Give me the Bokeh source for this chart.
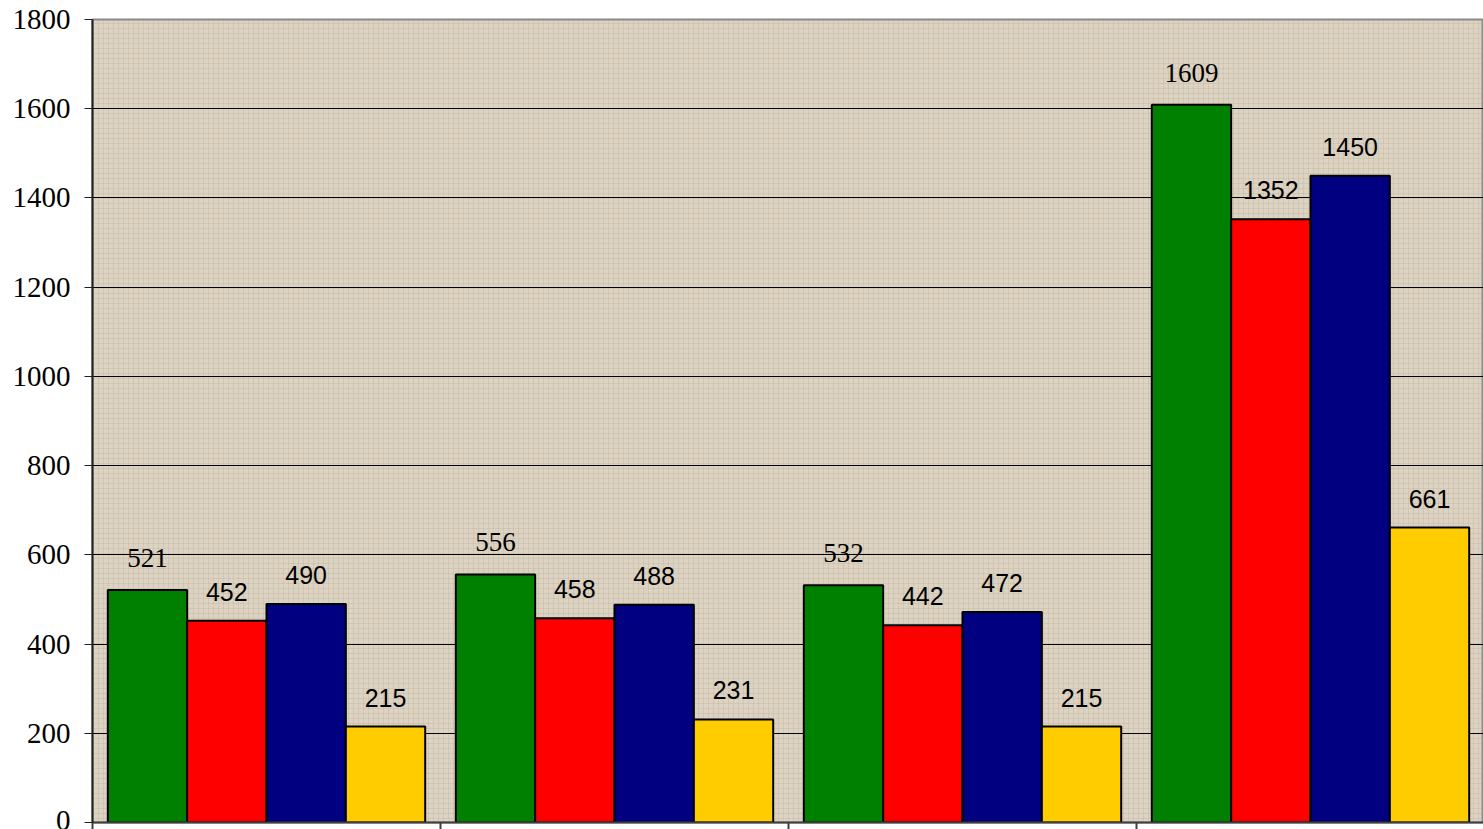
from bokeh.plotting import figure
from bokeh.models import (ColumnDataSource, Range1d, FixedTicker, LabelSet,
                          BoxAnnotation)
from bokeh.core.properties import value
from bokeh.embed import file_html
from bokeh.resources import INLINE

# Four groups of four series each
groups = [1, 2, 3, 4]
series_green = [521, 556, 532, 1609]
series_red = [452, 458, 442, 1352]
series_blue = [490, 488, 472, 1450]
series_yellow = [215, 231, 215, 661]
y_ticks = [0, 200, 400, 600, 800, 1000, 1200, 1400, 1600, 1800]

series = [
    (series_green, "#008000", "Liberation Serif", "27px", 23),
    (series_red, "#FF0000", "Liberation Sans", "25px", 20),
    (series_blue, "#000080", "Liberation Sans", "25px", 20),
    (series_yellow, "#FFCC00", "Liberation Sans", "25px", 20),
]

bar_w = 0.228
offsets = [-1.5 * bar_w, -0.5 * bar_w, 0.5 * bar_w, 1.5 * bar_w]

p = figure(width=1483, height=829, output_backend="svg", toolbar_location=None,
           x_range=Range1d(0, 4 - 1 / 348), y_range=Range1d(0, 1800),
           min_border_left=92, min_border_right=0, min_border_top=19,
           min_border_bottom=7)

p.background_fill_color = "#dcd3c2"
p.border_fill_color = "white"
p.outline_line_color = "#8a8a8a"
p.outline_line_width = 2

# woven texture over the plotting area
texture = BoxAnnotation(fill_alpha=0, hatch_pattern="cross", hatch_color="#b3a58c",
                        hatch_alpha=0.25, hatch_scale=5, hatch_weight=1,
                        line_alpha=0, level="image")
p.add_layout(texture)

p.xgrid.visible = False
p.ygrid.grid_line_color = "black"
p.ygrid.grid_line_width = 1
p.ygrid.ticker = FixedTicker(ticks=y_ticks)

p.yaxis.ticker = FixedTicker(ticks=y_ticks)
p.yaxis.major_label_text_font = "'Liberation Serif', 'Times New Roman', serif"
p.yaxis.major_label_text_font_size = "29px"
p.yaxis.major_label_text_color = "black"
p.yaxis.axis_line_color = "#202020"
p.yaxis.axis_line_width = 2
p.yaxis.major_tick_line_color = "#202020"
p.yaxis.major_tick_out = 8
p.yaxis.major_tick_in = 0
p.yaxis.minor_tick_line_color = None
p.yaxis.major_label_standoff = 14

p.xaxis.ticker = FixedTicker(ticks=[0, 1, 2, 3, 4])
p.xaxis.major_label_overrides = {0: "", 1: "", 2: "", 3: "", 4: ""}
p.xaxis.major_label_text_font_size = "10px"
p.xaxis.major_label_standoff = 0
p.xaxis.axis_line_color = "#404040"
p.xaxis.axis_line_width = 2
p.xaxis.major_tick_line_color = "#404040"
p.xaxis.major_tick_line_width = 2
p.xaxis.major_tick_out = 7
p.xaxis.major_tick_in = 0
p.xaxis.minor_tick_line_color = None

for (vals, color, font, size, lift), off in zip(series, offsets):
    src = ColumnDataSource(dict(
        x=[g - 0.5 + off for g in groups],
        top=vals,
        label=[str(v) for v in vals],
    ))
    p.vbar(x="x", top="top", bottom=0, width=bar_w, source=src,
           fill_color=color, line_color="black", line_width=2)
    labels = LabelSet(x="x", y="top", text="label", source=src,
                      text_align="center", text_baseline="alphabetic",
                      y_offset=lift, text_font=value(font),
                      text_font_size=value(size), text_color="black")
    p.add_layout(labels)

open("out.html", "w").write(file_html(p, INLINE))
